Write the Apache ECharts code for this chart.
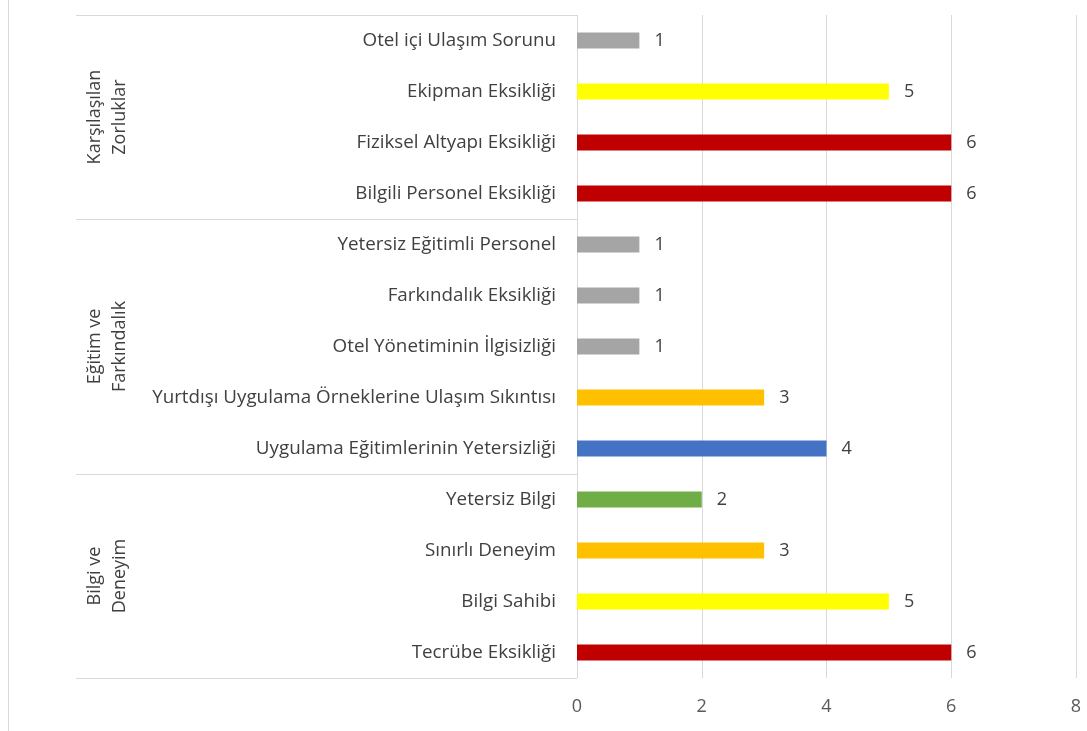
<!DOCTYPE html>
<html>
<head>
<meta charset="utf-8">
<script src="https://cdn.jsdelivr.net/npm/echarts@6/dist/echarts.min.js"></script>
<style>html,body{margin:0;padding:0;background:#fff}#c{width:1087px;height:731px}</style>
</head>
<body>
<div id="c"></div>
<script>
var categories = [
  "Otel içi Ulaşım Sorunu",
  "Ekipman Eksikliği",
  "Fiziksel Altyapı Eksikliği",
  "Bilgili Personel Eksikliği",
  "Yetersiz Eğitimli Personel",
  "Farkındalık Eksikliği",
  "Otel Yönetiminin İlgisizliği",
  "Yurtdışı Uygulama Örneklerine Ulaşım Sıkıntısı",
  "Uygulama Eğitimlerinin Yetersizliği",
  "Yetersiz Bilgi",
  "Sınırlı Deneyim",
  "Bilgi Sahibi",
  "Tecrübe Eksikliği"
];
var values = [1, 5, 6, 6, 1, 1, 1, 3, 4, 2, 3, 5, 6];
var barColors = ["#a5a5a5", "#ffff00", "#c00000", "#c00000", "#a5a5a5", "#a5a5a5", "#a5a5a5", "#ffc000", "#4472c4", "#70ad47", "#ffc000", "#ffff00", "#c00000"];
var groupNames = ["Karşılaşılan\nZorluklar", "Eğitim ve\nFarkındalık", "Bilgi ve\nDeneyim"];
var groupSizes = [4, 5, 4];
var xTicks = [0, 2, 4, 6, 8];

var FONT = "Open Sans";
var chart = echarts.init(document.getElementById('c'));
chart.setOption({
  animation: false,
  grid: { left: 577, right: 11, top: 15, bottom: 53, containLabel: false },
  xAxis: {
    type: 'value', min: xTicks[0], max: xTicks[xTicks.length - 1], interval: 2,
    axisLine: { show: false }, axisTick: { show: false },
    splitLine: { lineStyle: { color: '#d9d9d9', width: 1 } },
    axisLabel: { fontFamily: FONT, fontSize: 18, color: '#595959', margin: 20 }
  },
  yAxis: {
    type: 'category', data: categories, inverse: true,
    axisLine: { show: false }, axisTick: { show: false },
    axisLabel: { fontFamily: FONT, fontSize: 18.8, color: '#404040', margin: 21 }
  },
  series: [{
    type: 'bar', barWidth: 16,
    data: values.map(function (v, i) { return { value: v, itemStyle: { color: barColors[i] } }; }),
    label: { show: true, position: 'right', distance: 15, fontFamily: FONT, fontSize: 18, color: '#404040' }
  }]
});

function drawGroups() {
  var c0 = chart.convertToPixel({ yAxisIndex: 0 }, categories[0]);
  var c1 = chart.convertToPixel({ yAxisIndex: 0 }, categories[1]);
  var band = c1 - c0;
  var top = c0 - band / 2;
  var axisX = chart.convertToPixel({ xAxisIndex: 0 }, 0);
  var els = [];
  var lineStyle = { stroke: '#d9d9d9', lineWidth: 1 };
  els.push({ type: 'line', shape: { x1: 8.5, y1: 0, x2: 8.5, y2: 731 }, style: lineStyle, silent: true });
  var y = top;
  els.push({ type: 'line', shape: { x1: 76, y1: Math.round(y) + 0.5, x2: axisX, y2: Math.round(y) + 0.5 }, style: lineStyle });
  for (var g = 0; g < groupSizes.length; g++) {
    var y2 = y + groupSizes[g] * band;
    els.push({ type: 'line', shape: { x1: 76, y1: Math.round(y2) + 0.5, x2: axisX, y2: Math.round(y2) + 0.5 }, style: lineStyle });
    els.push({
      type: 'text', x: 107, y: (y + y2) / 2, rotation: Math.PI / 2,
      style: { text: groupNames[g], fontFamily: FONT, fontSize: 18, lineHeight: 25, fill: '#404040', align: 'center', verticalAlign: 'middle' }
    });
    y = y2;
  }
  chart.setOption({ graphic: { elements: els } });
}
drawGroups();
</script>
</body>
</html>
